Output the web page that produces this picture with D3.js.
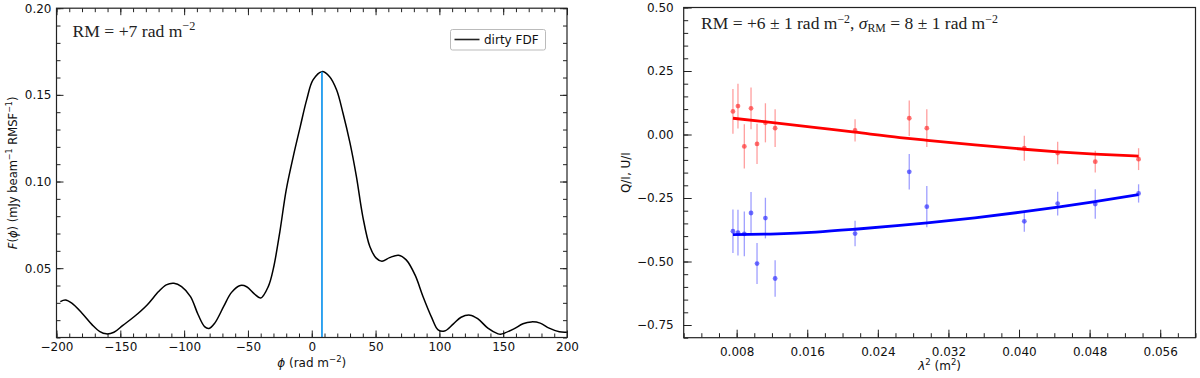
<!DOCTYPE html>
<html><head><meta charset="utf-8">
<script src="https://cdn.jsdelivr.net/npm/d3@7"></script>
<style>
html,body{margin:0;padding:0;background:#fff;}
svg{display:block;}
</style></head>
<body>
<svg id="c" width="1200" height="378" font-family="DejaVu Sans"></svg>
<script>
// ---------- data: left panel (dirty Faraday dispersion function) ----------
const fdfPhi = [-197,-193,-188,-180,-172,-166,-161,-155,-148,-139,-129,-120,-114,-108,-102,-95,-89,-84,-80.5,-76,-69,-63,-56,-51,-45,-40,-34,-30,-25,-20,-14.5,-9,-4,1,8,14,19.5,24.5,30,35,40,45.5,50.5,55,61,68,74,81,87,94,99,104,111,117,124,130,138,146,148,158,165.5,172,179,186,194,200];
const fdfAmp = [0.0307,0.0316,0.0298,0.0240,0.0173,0.0134,0.0121,0.0130,0.0170,0.0221,0.0288,0.0365,0.0404,0.0413,0.0394,0.0336,0.0231,0.0163,0.0152,0.0183,0.0279,0.0359,0.0400,0.0393,0.0352,0.0328,0.0395,0.0500,0.0710,0.0952,0.1144,0.1317,0.1471,0.1586,0.1634,0.1605,0.1528,0.1394,0.1221,0.1028,0.0798,0.0625,0.0558,0.0540,0.0561,0.0575,0.0548,0.0460,0.0340,0.0215,0.0144,0.0137,0.0179,0.0217,0.0229,0.0209,0.0154,0.0121,0.0119,0.0148,0.0179,0.0190,0.0183,0.0154,0.0133,0.0131];
const peakPhi = 8;
const peakAmp = 0.1634;
const leftXTicks = [-200,-150,-100,-50,0,50,100,150,200];
const leftYTicks = [0.05,0.10,0.15,0.20];

// ---------- data: right panel (Q/I, U/I vs lambda^2) ----------
const lam2 = [0.00758,0.00815,0.00887,0.00963,0.01031,0.01126,0.01236,0.02142,0.02756,0.02955,0.0406,0.04438,0.04864,0.05355];
const qVal = [0.091,0.112,-0.047,0.103,-0.037,0.046,0.025,0.016,0.064,0.025,-0.054,-0.073,-0.107,-0.097];
const qErr = [0.088,0.088,0.087,0.082,0.079,0.077,0.074,0.044,0.070,0.074,0.049,0.044,0.043,0.043];
const uVal = [-0.381,-0.386,-0.391,-0.309,-0.508,-0.329,-0.567,-0.390,-0.147,-0.284,-0.342,-0.272,-0.274,-0.232];
const uErr = [0.086,0.090,0.088,0.083,0.081,0.080,0.072,0.050,0.070,0.081,0.041,0.047,0.058,0.036];
const fitLam2 = [0.00758,0.0126,0.017,0.0214,0.0265,0.0296,0.035,0.0406,0.0444,0.0486,0.05355];
const qFit = [0.064,0.045,0.027,0.009,-0.012,-0.023,-0.041,-0.058,-0.068,-0.077,-0.085];
const uFit = [-0.394,-0.391,-0.384,-0.373,-0.358,-0.348,-0.328,-0.304,-0.286,-0.264,-0.237];
const rightXTicks = [0.008,0.016,0.024,0.032,0.040,0.048,0.056];
const rightYTicks = [-0.75,-0.50,-0.25,0.00,0.25,0.50];

const svg = d3.select("#c");
const FRAME = "#222";
const SERIF = "'Liberation Serif', 'DejaVu Serif', serif";

function minorRange(a,b,step){const out=[];const n=Math.round((b-a)/step);for(let i=0;i<=n;i++)out.push(+(a+i*step).toFixed(6));return out;}

function styleAxis(g){
  g.select(".domain").remove();
  g.attr("font-family",null).attr("font-size",null);
  g.selectAll(".tick line").attr("stroke",FRAME).attr("stroke-width",1);
  g.selectAll("text").style("font-family","DejaVu Sans").style("font-size","12px").attr("fill","#111");
}

// fit an annotation's width to the measured width of the reference
function fitWidth(sel, target){
  const w = sel.node().getComputedTextLength();
  const k = target / w;
  sel.selectAll("tspan").each(function(){
    const t = d3.select(this);
    const fs = parseFloat(t.style("font-size"));
    t.style("font-size", (fs*k)+"px");
  });
}

// ================= LEFT PANEL =================
const xL = d3.scaleLinear().domain([-200,200]).range([56.5,567]);
const yL = d3.scaleLinear().domain([0.01,0.20]).range([337.5,8.2]);
const L = svg.append("g");

const lxMinor = minorRange(-200,200,10);
const lyMinor = minorRange(0.01,0.20,0.01);
L.append("g").attr("transform",`translate(0,${yL(0.01)})`).call(d3.axisBottom(xL).tickValues(lxMinor).tickSize(-4).tickFormat("")).call(styleAxis);
L.append("g").attr("transform",`translate(0,${yL(0.20)})`).call(d3.axisTop(xL).tickValues(lxMinor).tickSize(-4).tickFormat("")).call(styleAxis);
L.append("g").attr("transform",`translate(${xL(-200)},0)`).call(d3.axisLeft(yL).tickValues(lyMinor).tickSize(-4).tickFormat("")).call(styleAxis);
L.append("g").attr("transform",`translate(${xL(200)},0)`).call(d3.axisRight(yL).tickValues(lyMinor).tickSize(-4).tickFormat("")).call(styleAxis);
L.append("g").attr("transform",`translate(0,${yL(0.01)})`).call(d3.axisBottom(xL).tickValues(leftXTicks).tickSize(-7).tickPadding(4.5).tickFormat(d3.format("d"))).call(styleAxis);
L.append("g").attr("transform",`translate(0,${yL(0.20)})`).call(d3.axisTop(xL).tickValues(leftXTicks).tickSize(-7).tickFormat("")).call(styleAxis);
L.append("g").attr("transform",`translate(${xL(-200)},0)`).call(d3.axisLeft(yL).tickValues(leftYTicks).tickSize(-7).tickPadding(5).tickFormat(d3.format(".2f"))).call(styleAxis);
L.append("g").attr("transform",`translate(${xL(200)},0)`).call(d3.axisRight(yL).tickValues(leftYTicks).tickSize(-7).tickFormat("")).call(styleAxis);

const fdf = fdfPhi.map((p,i)=>[p,fdfAmp[i]]);
L.append("path").datum(fdf)
  .attr("d",d3.line().x(d=>xL(d[0])).y(d=>yL(d[1])).curve(d3.curveCatmullRom.alpha(0.5)))
  .attr("fill","none").attr("stroke","#000").attr("stroke-width",1.5);
L.append("line").attr("x1",xL(peakPhi)).attr("x2",xL(peakPhi)).attr("y1",yL(0.01)).attr("y2",yL(peakAmp))
  .attr("stroke","#1e9bef").attr("stroke-width",1.8);

L.append("rect").attr("x",xL(-200)).attr("y",yL(0.20)).attr("width",xL(200)-xL(-200)).attr("height",yL(0.01)-yL(0.20))
  .attr("fill","none").attr("stroke",FRAME).attr("stroke-width",1.2);

// legend
const lg = L.append("g");
lg.append("rect").attr("x",450.5).attr("y",29.5).attr("width",95).attr("height",20.5).attr("rx",2)
  .attr("fill","#fff").attr("stroke","#bbb").attr("stroke-width",1);
lg.append("line").attr("x1",454.5).attr("x2",479.5).attr("y1",39.5).attr("y2",39.5).attr("stroke","#222").attr("stroke-width",1.6);
lg.append("text").attr("x",484).attr("y",44).style("font-size","12px").attr("fill","#111").text("dirty FDF");

// annotation (serif, LaTeX-like)
const ann = L.append("text").attr("x",72.5).attr("y",36.5).style("font-family",SERIF).attr("fill","#222");
ann.append("tspan").style("font-size","16.5px").text("RM = +7 rad m");
ann.append("tspan").style("font-size","11.5px").attr("dy",-6.5).text("−2");
fitWidth(ann, 123);

// axis labels
const xlabL = L.append("text").attr("x",xL(0)).attr("y",367).attr("text-anchor","middle").style("font-size","12px").attr("fill","#111");
xlabL.append("tspan").style("font-style","italic").text("ϕ");
xlabL.append("tspan").text(" (rad m");
xlabL.append("tspan").style("font-size","8.5px").attr("dy",-5).text("−2");
xlabL.append("tspan").attr("dy",5).text(")");

const ylabL = L.append("text").attr("transform",`translate(17,${(yL(0.01)+yL(0.20))/2}) rotate(-90)`).attr("text-anchor","middle").style("font-size","11.5px").attr("fill","#111");
ylabL.append("tspan").style("font-style","italic").text("F");
ylabL.append("tspan").text("(");
ylabL.append("tspan").style("font-style","italic").text("ϕ");
ylabL.append("tspan").text(") (mJy beam");
ylabL.append("tspan").style("font-size","8px").attr("dy",-5).text("−1");
ylabL.append("tspan").attr("dy",5).text(" RMSF");
ylabL.append("tspan").style("font-size","8px").attr("dy",-5).text("−1");
ylabL.append("tspan").attr("dy",5).text(")");

// ================= RIGHT PANEL =================
const xR = d3.scaleLinear().domain([0.002,0.060]).range([683.7,1195.5]);
const yR = d3.scaleLinear().domain([-0.80,0.50]).range([337.7,7.5]);
const R = svg.append("g");

const rxMinor = minorRange(0.002,0.060,0.002);
const ryMinor = minorRange(-0.80,0.50,0.05);
R.append("g").attr("transform",`translate(0,${yR(-0.80)})`).call(d3.axisBottom(xR).tickValues(rxMinor).tickSize(-4.5).tickFormat("")).call(styleAxis);
R.append("g").attr("transform",`translate(${xR(0.002)},0)`).call(d3.axisLeft(yR).tickValues(ryMinor).tickSize(-4.5).tickFormat("")).call(styleAxis);
R.append("g").attr("transform",`translate(0,${yR(-0.80)})`).call(d3.axisBottom(xR).tickValues(rightXTicks).tickSize(-8).tickPadding(10).tickFormat(d3.format(".3f"))).call(styleAxis);
R.append("g").attr("transform",`translate(${xR(0.002)},0)`).call(d3.axisLeft(yR).tickValues(rightYTicks).tickSize(-8).tickPadding(10).tickFormat(d3.format(".2f"))).call(styleAxis);

const lineR = d3.line().x(d=>xR(d[0])).y(d=>yR(d[1])).curve(d3.curveMonotoneX);

function drawSeries(vals, errs, errColor, ptColor){
  const g = R.append("g");
  g.selectAll("line").data(lam2).join("line")
    .attr("x1",d=>xR(d)).attr("x2",d=>xR(d))
    .attr("y1",(d,i)=>yR(vals[i]-errs[i])).attr("y2",(d,i)=>yR(vals[i]+errs[i]))
    .attr("stroke",errColor).attr("stroke-width",1.3);
  g.selectAll("circle").data(lam2).join("circle")
    .attr("cx",d=>xR(d)).attr("cy",(d,i)=>yR(vals[i])).attr("r",2.4).attr("fill",ptColor);
}
drawSeries(qVal,qErr,"rgba(255,0,0,0.38)","rgba(255,40,40,0.65)");
drawSeries(uVal,uErr,"rgba(0,0,255,0.38)","rgba(40,40,255,0.65)");

R.append("path").datum(fitLam2.map((x,i)=>[x,qFit[i]])).attr("d",lineR).attr("fill","none").attr("stroke","#ff0000").attr("stroke-width",2.8);
R.append("path").datum(fitLam2.map((x,i)=>[x,uFit[i]])).attr("d",lineR).attr("fill","none").attr("stroke","#0000ff").attr("stroke-width",2.8);

R.append("rect").attr("x",xR(0.002)).attr("y",yR(0.50)).attr("width",xR(0.060)-xR(0.002)).attr("height",yR(-0.80)-yR(0.50))
  .attr("fill","none").attr("stroke",FRAME).attr("stroke-width",1.2);

// annotation
const annR = R.append("text").attr("x",701).attr("y",28.5).style("font-family",SERIF).attr("fill","#222");
annR.append("tspan").style("font-size","15.5px").text("RM = +6 ± 1 rad m");
annR.append("tspan").style("font-size","10.5px").attr("dy",-6).text("−2");
annR.append("tspan").style("font-size","15.5px").attr("dy",6).text(", ");
annR.append("tspan").style("font-size","15.5px").style("font-style","italic").text("σ");
annR.append("tspan").style("font-size","10.5px").attr("dy",3.5).text("RM");
annR.append("tspan").style("font-size","15.5px").attr("dy",-3.5).text(" = 8 ± 1 rad m");
annR.append("tspan").style("font-size","10.5px").attr("dy",-6).text("−2");
fitWidth(annR, 297);

// axis labels
const xlabR = R.append("text").attr("x",(xR(0.002)+xR(0.060))/2).attr("y",370).attr("text-anchor","middle").style("font-size","12px").attr("fill","#111");
xlabR.append("tspan").style("font-style","italic").text("λ");
xlabR.append("tspan").style("font-size","8.5px").attr("dy",-5).text("2");
xlabR.append("tspan").attr("dy",5).text(" (m");
xlabR.append("tspan").style("font-size","8.5px").attr("dy",-5).text("2");
xlabR.append("tspan").attr("dy",5).text(")");

R.append("text").attr("transform",`translate(630,${(yR(-0.80)+yR(0.50))/2}) rotate(-90)`).attr("text-anchor","middle")
  .style("font-size","12px").attr("fill","#111").text("Q/I, U/I");
</script>
</body></html>
